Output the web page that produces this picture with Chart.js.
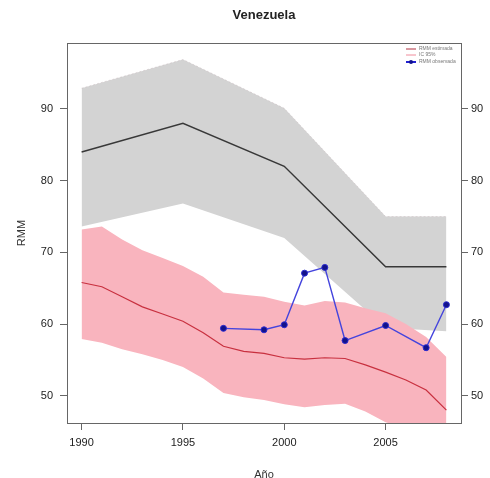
<!DOCTYPE html>
<html>
<head>
<meta charset="utf-8">
<script src="https://cdn.jsdelivr.net/npm/chart.js@4.4.1/dist/chart.umd.min.js"></script>
<style>
  html, body { margin: 0; padding: 0; background: #fff; }
</style>
</head>
<body>
<canvas id="rmmChart" width="490" height="478"></canvas>
<script>
// --- data ---
const bandYears = [1990, 1995, 2000, 2005, 2008];
const grayUpper = [92.9, 96.9, 90.1, 75.0, 75.0];
const grayMid = [84.0, 88.0, 82.0, 68.0, 68.0];
const grayLower = [73.6, 76.8, 72.0, 59.5, 59.0];

const years = [1990, 1991, 1992, 1993, 1994, 1995, 1996, 1997, 1998, 1999,
  2000, 2001, 2002, 2003, 2004, 2005, 2006, 2007, 2008];
const redMid = [65.8, 65.2, 63.8, 62.4, 61.4, 60.4, 58.8, 56.9, 56.2, 55.9,
  55.3, 55.1, 55.3, 55.2, 54.3, 53.3, 52.2, 50.8, 48.0];
const redUpper = [73.2, 73.6, 71.8, 70.3, 69.2, 68.1, 66.6, 64.4, 64.1, 63.8,
  63.1, 62.6, 63.2, 63.0, 62.2, 61.5, 60.0, 58.2, 55.4];
const redLower = [57.9, 57.4, 56.5, 55.8, 55.0, 54.0, 52.4, 50.4, 49.8, 49.4,
  48.8, 48.4, 48.7, 48.9, 47.8, 46.3, 45.5, 44.8, 43.5];

const obsYears = [1997, 1999, 2000, 2001, 2002, 2003, 2005, 2007, 2008];
const observed = [59.4, 59.2, 59.9, 67.1, 67.9, 57.7, 59.8, 56.7, 62.7];

const xTicks = [1990, 1995, 2000, 2005];
const yTicks = [50, 60, 70, 80, 90];

const titleText = "Venezuela";
const xTitle = "Año";
const yTitle = "RMM";
const legendLabels = ["RMM estimada", "IC 95%", "RMM observada"];

function pts(xs, ys) {
  return xs.map((x, i) => ({ x: x, y: ys[i] }));
}

const font = '"Liberation Sans", Arial, sans-serif';
const axisColor = "#666";

const extras = {
  id: "extras",
  afterDraw(chart) {
    const ctx = chart.ctx;
    const a = chart.chartArea;
    ctx.save();
    ctx.strokeStyle = axisColor;
    ctx.lineWidth = 1;
    ctx.strokeRect(Math.round(a.left) + 0.5, Math.round(a.top) + 0.5,
      Math.round(a.right - a.left), Math.round(a.bottom - a.top));

    ctx.fillStyle = "#222";
    ctx.textAlign = "center";
    ctx.textBaseline = "middle";
    ctx.font = "bold 13px " + font;
    ctx.fillText(titleText, (a.left + a.right) / 2, 15);

    ctx.font = "11px " + font;
    ctx.fillStyle = "#333";
    ctx.fillText(xTitle, (a.left + a.right) / 2, 475);
    ctx.save();
    ctx.translate(22, (a.top + a.bottom) / 2);
    ctx.rotate(-Math.PI / 2);
    ctx.fillText(yTitle, 0, 0);
    ctx.restore();

    // small legend in the top right corner
    const cols = ["#b03040", "#f08c9c", "#2020d0"];
    const rows = [49, 55, 62];
    ctx.textAlign = "left";
    ctx.font = "5px " + font;
    rows.forEach((y, i) => {
      ctx.strokeStyle = cols[i];
      ctx.lineWidth = i == 2 ? 2 : 1;
      ctx.beginPath();
      ctx.moveTo(406, y);
      ctx.lineTo(416, y);
      ctx.stroke();
      if (i == 2) {
        ctx.fillStyle = "#10108c";
        ctx.beginPath();
        ctx.arc(411, y, 2, 0, Math.PI * 2);
        ctx.fill();
      }
      ctx.fillStyle = "#777";
      ctx.fillText(legendLabels[i], 419, y);
    });
    ctx.restore();
  }
};

const data = {
  datasets: [
    {
      label: "gray upper",
      data: pts(bandYears, grayUpper),
      borderColor: "rgba(190,170,175,0.35)",
      borderWidth: 1,
      borderDash: [2, 2],
      backgroundColor: "#d3d3d3",
      fill: "+1",
      pointRadius: 0,
      order: 6
    },
    {
      label: "gray lower",
      data: pts(bandYears, grayLower),
      borderWidth: 0,
      pointRadius: 0,
      fill: false,
      order: 6
    },
    {
      label: "pink upper",
      data: pts(years, redUpper),
      borderWidth: 0,
      backgroundColor: "#f9b4be",
      fill: "+1",
      pointRadius: 0,
      order: 5
    },
    {
      label: "pink lower",
      data: pts(years, redLower),
      borderWidth: 0,
      pointRadius: 0,
      fill: false,
      order: 5
    },
    {
      label: "gray mid",
      data: pts(bandYears, grayMid),
      borderColor: "#383838",
      borderWidth: 1.5,
      pointRadius: 0,
      fill: false,
      order: 3
    },
    {
      label: "red mid",
      data: pts(years, redMid),
      borderColor: "#c8303f",
      borderWidth: 1.2,
      pointRadius: 0,
      fill: false,
      order: 2
    },
    {
      label: "observed",
      data: pts(obsYears, observed),
      borderColor: "#4444dd",
      borderWidth: 1.4,
      pointRadius: 3,
      pointBackgroundColor: "#12128a",
      pointBorderColor: "#2a2ad0",
      pointBorderWidth: 1,
      fill: false,
      order: 1
    }
  ]
};

const tickStyle = { font: { size: 11, family: font }, color: "#222" };

const config = {
  type: "line",
  data: data,
  options: {
    responsive: false,
    animation: false,
    layout: { padding: { top: 43, left: 0, right: 0, bottom: 0 } },
    plugins: {
      legend: { display: false },
      title: { display: false },
      tooltip: { enabled: false }
    },
    scales: {
      x: {
        type: "linear",
        min: 1989.28,
        max: 2008.72,
        afterFit(s) { s.height = 55; },
        afterBuildTicks(s) { s.ticks = xTicks.map(v => ({ value: v })); },
        grid: { drawOnChartArea: false, tickLength: 7, color: axisColor },
        border: { color: axisColor },
        ticks: Object.assign({ padding: 6, maxRotation: 0, callback: v => String(v) }, tickStyle)
      },
      y: {
        position: "left",
        min: 46.2,
        max: 99.2,
        afterFit(s) { s.width = 67; },
        afterBuildTicks(s) { s.ticks = yTicks.map(v => ({ value: v })); },
        grid: { drawOnChartArea: false, tickLength: 7, color: axisColor },
        border: { color: axisColor },
        ticks: Object.assign({ padding: 7, callback: v => String(v) }, tickStyle)
      },
      y2: {
        position: "right",
        min: 46.2,
        max: 99.2,
        afterFit(s) { s.width = 29; },
        afterBuildTicks(s) { s.ticks = yTicks.map(v => ({ value: v })); },
        grid: { drawOnChartArea: false, tickLength: 7, color: axisColor },
        border: { color: axisColor },
        ticks: Object.assign({ padding: 3, callback: v => String(v) }, tickStyle)
      }
    }
  },
  plugins: [extras]
};

var rmmChart = new Chart(document.getElementById("rmmChart"), config);
</script>
</body>
</html>
